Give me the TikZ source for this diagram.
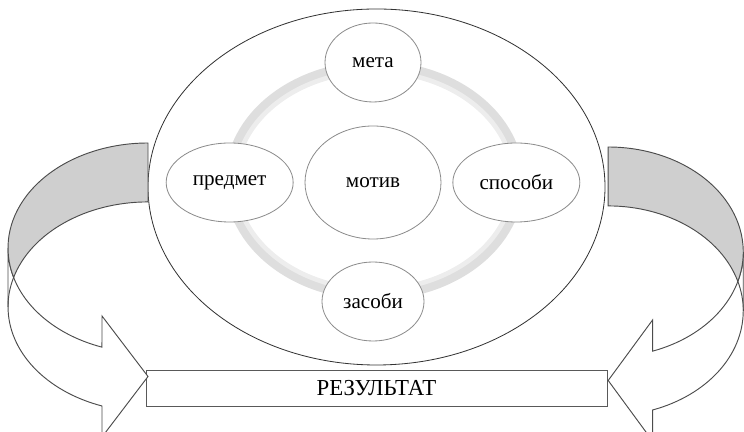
\documentclass[tikz,border=0pt]{standalone}
\usepackage{fontspec}
\setmainfont{Liberation Serif}
\usepackage{tikz}
\usetikzlibrary{shapes.geometric}
\tikzstyle{oval}=[draw=black!45, ellipse, fill=white, line width=0.7pt, inner sep=0pt, text=black, font=\fontsize{18}{20}\selectfont]
\tikzstyle{bigoval}=[draw=black!80, ellipse, line width=0.7pt, minimum width=13.71cm, minimum height=10.68cm]
\tikzstyle{ring}=[draw=black!13, line width=0.36cm]
\tikzstyle{glow}=[draw=black!7, line width=0.14cm]
\tikzstyle{res}=[draw=black!65, fill=white, line width=0.8pt, minimum width=13.83cm, minimum height=1.08cm, inner sep=0pt, text=black, font=\fontsize{19.5}{21}\selectfont]
\tikzstyle{band}=[draw=black!70, fill=black!19, line width=0.8pt]
\tikzstyle{body}=[draw=black!70, fill=white, line width=0.8pt]

\newcommand{\bentarrow}{%
  \draw[body] (8,184) arc[start angle=180, end angle=250.8, x radius=140, y radius=105]
    -- (102,116) -- (148,55.5) -- (102,-5) -- (102,26)
    arc[start angle=250.8, end angle=180, x radius=140, y radius=105] -- cycle;
  \draw[band] (148,289) arc[start angle=90, end angle=196.3, x radius=140, y radius=105]
    arc[start angle=163.7, end angle=90, x radius=140, y radius=105] -- cycle;
  \draw[band, fill=none] (13.6,154.5) arc[start angle=163.7, end angle=180, x radius=140, y radius=105];
}

\begin{document}
\begin{tikzpicture}[x=0.03cm, y=0.03cm, node distance=4.3cm]
  \clip (0,0) rectangle (744,432);
  \node [bigoval] (whole) at (376.5,245) {};
  \draw [ring] (374.5,251.5) ellipse [x radius=143.5, y radius=113.5];
  \draw [glow] (374.5,251.5) ellipse [x radius=139, y radius=109];

  \node [oval, minimum width=4.08cm, minimum height=3.39cm] (motive) at (373,249.5) {мотив};
  \node [oval, minimum width=2.88cm, minimum height=2.37cm] (goal) [above of=motive, node distance=3.6cm] {мета};
  \node [oval, minimum width=3.81cm, minimum height=2.37cm] (subject) [left of=motive] {предмет};
  \node [oval, minimum width=3.81cm, minimum height=2.37cm] (ways) [right of=motive] {способи};
  \node [oval, minimum width=3.06cm, minimum height=2.37cm] (means) [below of=motive, node distance=3.57cm] {засоби};

  \node [res] (result) [below of=whole, node distance=6.03cm] {РЕЗУЛЬТАТ};

  \bentarrow
  \begin{scope}[shift={(751,-4)}, xscale=-0.965]
    \bentarrow
  \end{scope}
\end{tikzpicture}
\end{document}
